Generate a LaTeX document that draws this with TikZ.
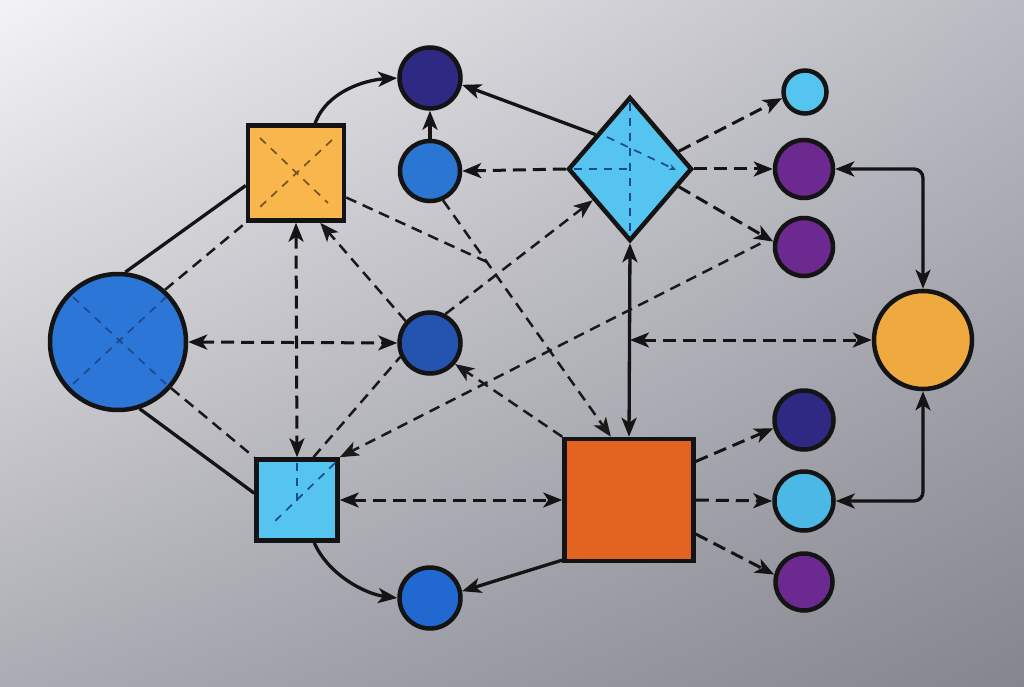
\documentclass[tikz,border=0pt]{standalone}
\usepackage{xcolor}
\usetikzlibrary{arrows.meta,shapes.geometric,calc,shadings}

\definecolor{bgUL}{HTML}{F3F3F5}
\definecolor{bgUR}{HTML}{BABAC2}
\definecolor{bgLL}{HTML}{ABABB3}
\definecolor{bgLR}{HTML}{85858F}
\definecolor{cBig}{HTML}{2B76D6}
\definecolor{cYel}{HTML}{F9B64C}
\definecolor{cInd}{HTML}{2E2A84}
\definecolor{cBlu}{HTML}{2A76D2}
\definecolor{cSky}{HTML}{55C4EE}
\definecolor{cSkyB}{HTML}{4BB8E6}
\definecolor{cPur}{HTML}{6C2A90}
\definecolor{cGold}{HTML}{EEAA3E}
\definecolor{cMid}{HTML}{2554B0}
\definecolor{cOra}{HTML}{E2621F}
\definecolor{cBot}{HTML}{2168D0}
\definecolor{inBlue}{HTML}{1B4A92}
\definecolor{inBrown}{HTML}{7A5220}

\begin{document}
\begin{tikzpicture}[x=1pt,y=1pt,yscale=-1,
    >={Stealth[length=19pt,width=15pt,inset=5pt]},
    shp/.style={draw=black!92, line width=4.5pt, inner sep=0pt},
    circ/.style={shp, circle, minimum size=#1},
    box/.style 2 args={shp, rectangle, minimum width=#1, minimum height=#2},
    link/.style={draw=black!92, line width=3.3pt},
    dlink/.style={draw=black!92, line width=3pt, dash pattern=on 13pt off 7pt},
    thin dlink/.style={draw=black!90, line width=2.5pt, dash pattern=on 11pt off 7pt},
    inner/.style={line width=1.7pt, dash pattern=on 8pt off 7pt}]

    \shade[upper left=bgUL, upper right=bgUR, lower left=bgLL, lower right=bgLR] (0,0) rectangle (1024,687);
    \useasboundingbox (0,0) rectangle (1024,687);

    \node[circ=136pt, fill=cBig] (big) at (118,342) {};
    \node[box={96pt}{95pt}, fill=cYel] (ysq) at (296,173) {};
    \node[circ=61pt, fill=cInd] (topc) at (430,78) {};
    \node[circ=60pt, fill=cBlu] (upc) at (430,171) {};
    \node[shp, diamond, minimum width=124pt, minimum height=144pt, fill=cSky] (dia) at (630,169) {};
    \node[circ=43pt, fill=cSky] (sky1) at (805,92) {};
    \node[circ=58pt, fill=cPur] (pur1) at (804,169) {};
    \node[circ=58pt, fill=cPur] (pur2) at (804,247) {};
    \node[circ=98pt, fill=cGold] (gold) at (923,340) {};
    \node[circ=61pt, fill=cMid] (midc) at (430,343) {};
    \node[box={81pt}{81pt}, fill=cSky] (lsq) at (297,500) {};
    \node[box={129pt}{122pt}, fill=cOra] (osq) at (629,500) {};
    \node[circ=61pt, fill=cBot] (botc) at (430,598) {};
    \node[circ=59pt, fill=cInd] (ind2) at (804,420) {};
    \node[circ=59pt, fill=cSkyB] (sky2) at (804,501) {};
    \node[circ=57pt, fill=cPur] (pur3) at (804,582) {};

    \coordinate (vmid) at (dia.south |- gold.west);
    \coordinate (join) at (487,262);

    % solid links
    \draw[link] (big.84) -- (ysq.194);
    \draw[link] (big.-72) -- (lsq.171);
    \draw[link,->] (ysq.69) .. controls +(12,-32) and +(-32,2) .. (topc.west);
    \draw[link,->] (upc.north) -- (topc.south);
    \draw[link,->] (dia.135) -- (topc.-12);
    \draw[link,<->] (osq.north) -- (dia.south);
    \draw[link,<->,rounded corners=9pt] (pur1.east) -| (gold.north);
    \draw[link,<->,rounded corners=9pt] (sky2.east) -| (gold.south);
    \draw[link,->] (lsq.-68) .. controls +(14,32) and +(-32,-4) .. (botc.west);
    \draw[link,->] (osq.222) -- (botc.12);

    % dashed links
    \draw[dlink,<->] (big.east) -- (midc.west);
    \draw[dlink,<->] (ysq.south) -- (lsq.north);
    \draw[dlink,<->] (lsq.east) -- (osq.west);
    \draw[dlink,<->] (vmid) -- (gold.west);
    \draw[dlink,->] (dia.west) -- (upc.east);
    \draw[dlink,->] (dia.east) -- (pur1.west);
    \draw[dlink,->] (dia.20) -- (sky1.195);
    \draw[dlink,->] (dia.-20) -- (pur2.170);
    \draw[dlink,->] (osq.30) -- (ind2.195);
    \draw[dlink,->] (osq.east) -- (sky2.west);
    \draw[dlink,->] (osq.-27) -- (pur3.166);
    \draw[thin dlink] (big.48) -- (ysq.south west);
    \draw[thin dlink] (big.-41) -- (lsq.north west);
    \draw[thin dlink,->] (midc.138) -- (ysq.-64);
    \draw[thin dlink] (lsq.69) -- (midc.205);
    \draw[thin dlink,->] (upc.-66) -- (osq.106);
    \draw[thin dlink] (ysq.-26) -- (join);
    \draw[thin dlink,->] (midc.62) -- (dia.220);
    \draw[thin dlink,->] (osq.north west) -- (midc.-40);
    \draw[thin dlink,->,shorten <=16pt] (pur2.160) -- (lsq.north east);

    % marks inside the shapes
    \draw[inner, inBlue] ($(big)+(-45,-45)$) -- ($(big)+(48,42)$);
    \draw[inner, inBlue] ($(big)+(-45,42)$) -- ($(big)+(48,-45)$);
    \draw[inner, inBrown] ($(ysq)+(-36,-35)$) -- ($(ysq)+(32,30)$);
    \draw[inner, inBrown] ($(ysq)+(36,-33)$) -- ($(ysq)+(-36,34)$);
    \draw[inner, inBlue] ($(dia.north)+(0,8)$) -- ($(dia.south)+(0,-8)$);
    \draw[inner, inBlue] ($(dia.west)+(8,0)$) -- (dia.center);
    \draw[inner, inBlue, -{Stealth[length=7pt,width=6pt]}] ($(dia)+(-23,-32)$) -- ($(dia)+(46,1)$);
    \draw[inner, inBlue] ($(lsq)+(0,-37)$) -- ($(lsq)+(0,3)$);
    \draw[inner, inBlue] ($(lsq)+(38,-37)$) -- ($(lsq)+(-24,23)$);
\end{tikzpicture}
\end{document}
